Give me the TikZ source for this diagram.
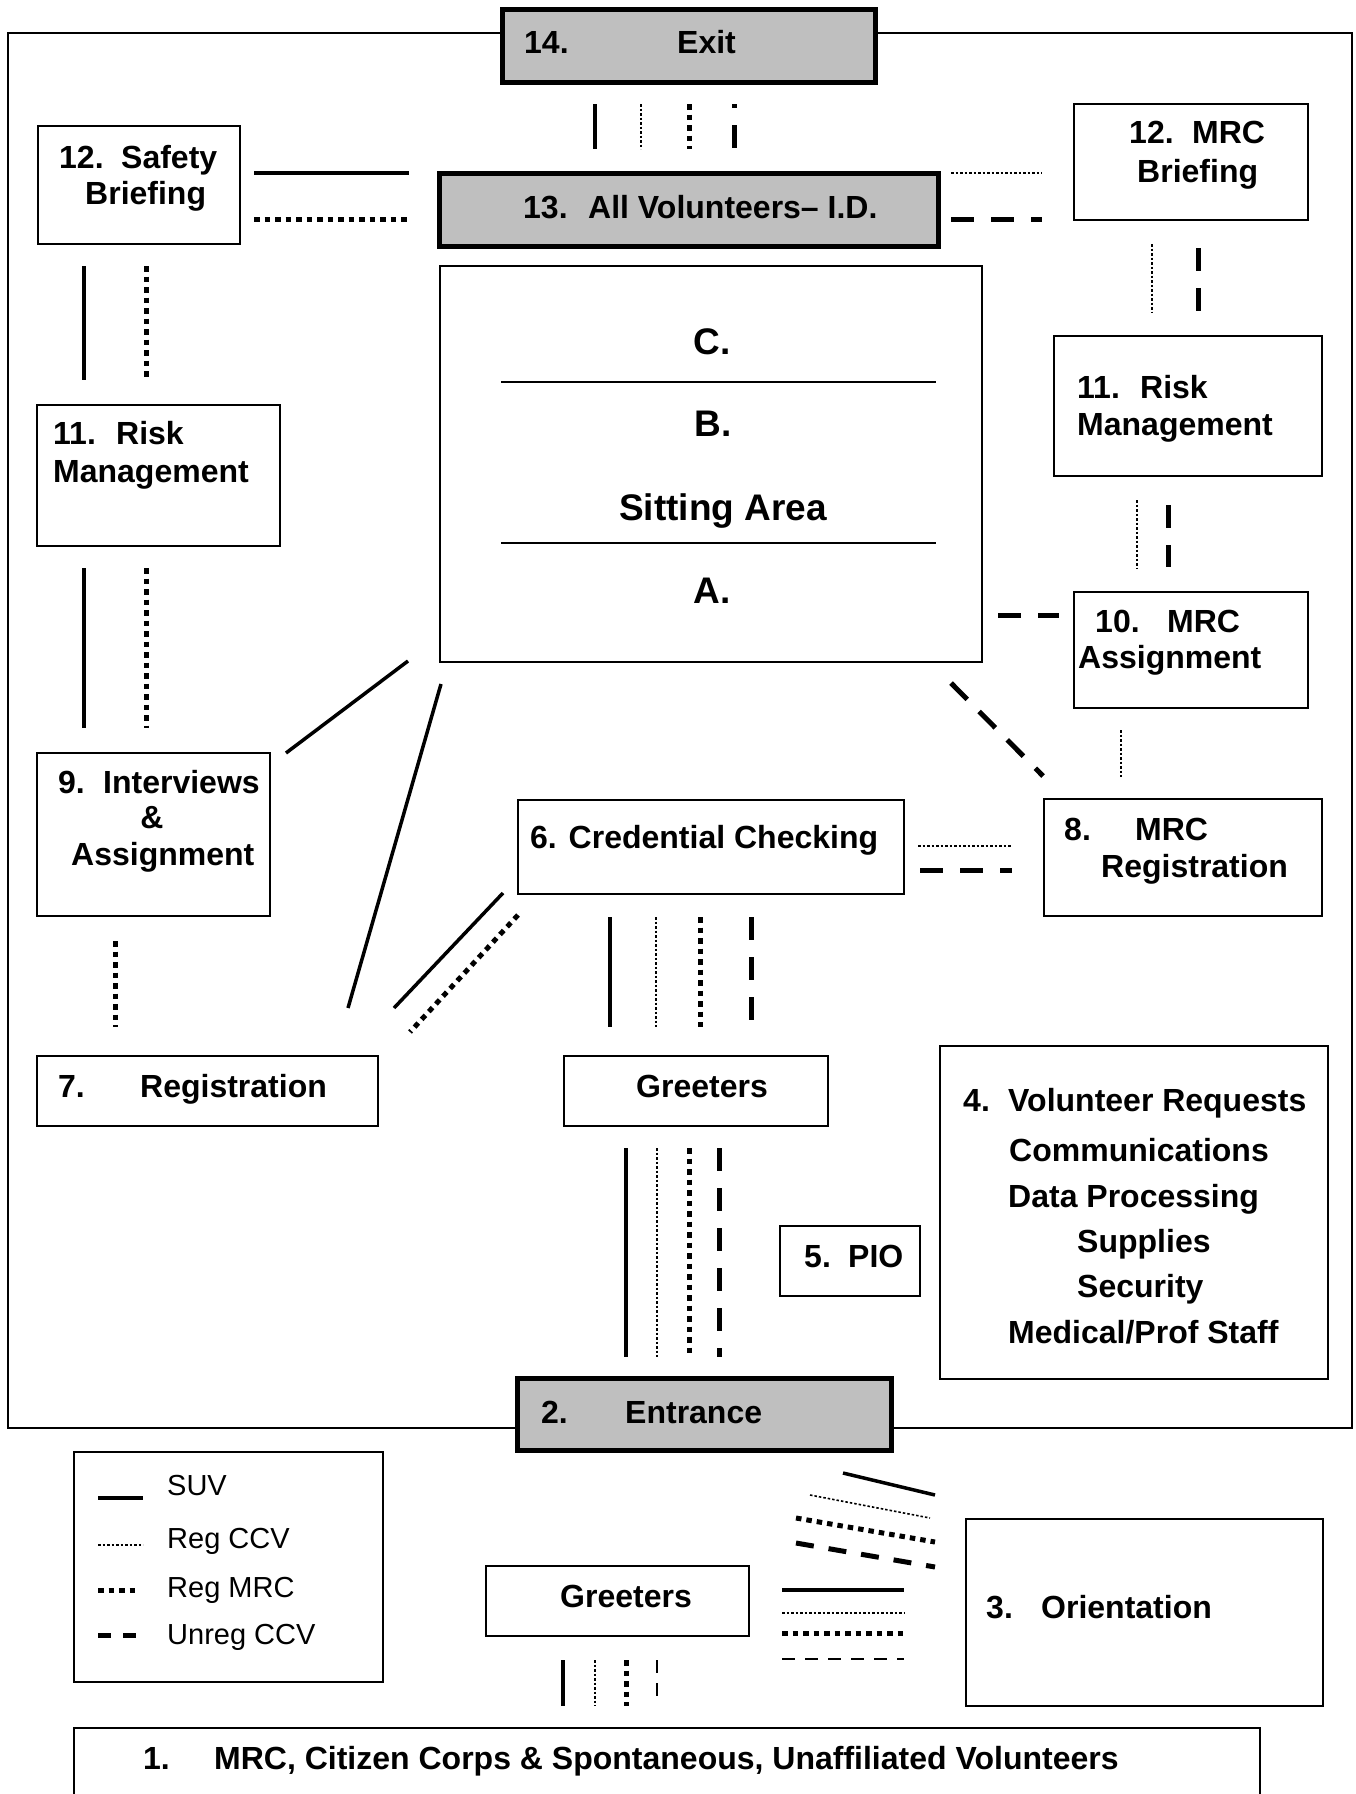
\documentclass[tikz,border=0pt]{standalone}
\usepackage{fontspec}
\setmainfont{Liberation Sans}
\usepackage{tikz}
\usetikzlibrary{fit}
\pgfdeclarelayer{background}
\pgfsetlayers{background,main}

\begin{document}
\begin{tikzpicture}[x=1pt, y=-1pt]

    % Page
    \useasboundingbox (0,0) rectangle (1356,1794);

    % Rooms
    \tikzset{wall/.style={draw, line width=2.6pt}}
    \tikzset{box/.style={wall, inner sep=0pt}}
    \tikzset{hub/.style={box, line width=5pt, fill=black!25}}

    % Texts
    \tikzset{lbl/.style={inner sep=0pt, anchor=base west, font=\fontsize{32}{37}\selectfont\bfseries}}
    \tikzset{clbl/.style={lbl, anchor=base}}
    \tikzset{area/.style={clbl, font=\fontsize{37}{44}\selectfont\bfseries}}
    \tikzset{key/.style={lbl, font=\fontsize{29}{34}\selectfont}}

    % Volunteer types
    \tikzset{suv/.style={line width=3.5pt}}
    \tikzset{ccv/.style={line width=1.6pt, dash pattern=on 2.5pt off 2pt}}
    \tikzset{mrc/.style={line width=5pt, dash pattern=on 5.5pt off 5pt}}
    \tikzset{ucv/.style={line width=5pt, dash pattern=on 23pt off 17pt}}
    \tikzset{ucvs/.style={line width=2.5pt, dash pattern=on 13pt off 10pt}}

    % Building
    \node (exit) [hub, fit={(502,9) (875,82)}] {};
    \node (allid) [hub, fit={(439,173) (938,246)}] {};
    \node (safety) [box, fit={(38,126) (240,244)}] {};
    \node (mrcbrief) [box, fit={(1074,104) (1308,220)}] {};
    \node (sit) [box, fit={(440,266) (982,662)}] {};
    \node (riskl) [box, fit={(37,405) (280,546)}] {};
    \node (riskr) [box, fit={(1054,336) (1322,476)}] {};
    \node (mrcasg) [box, fit={(1074,592) (1308,708)}] {};
    \node (interv) [box, fit={(37,753) (270,916)}] {};
    \node (cred) [box, fit={(518,800) (904,894)}] {};
    \node (mrcreg) [box, fit={(1044,799) (1322,916)}] {};
    \node (reg) [box, fit={(37,1056) (378,1126)}] {};
    \node (greet) [box, fit={(564,1056) (828,1126)}] {};
    \node (volreq) [box, fit={(940,1046) (1328,1379)}] {};
    \node (pio) [box, fit={(780,1226) (920,1296)}] {};
    \node (entr) [hub, fit={(517,1378) (891,1450)}] {};

    % Outside
    \node (legend) [box, fit={(74,1452) (383,1682)}] {};
    \node (greetb) [box, fit={(486,1566) (749,1636)}] {};
    \node (orient) [box, fit={(966,1519) (1323,1706)}] {};
    \draw[wall] (74,1794) |- (1260,1728) -- (1260,1794);

    % Labels
    \node (exit-t) [lbl] at (524,53) {\makebox[153pt][l]{14.}Exit};
    \node (allid-t) [lbl] at (523,218) {\makebox[65pt][l]{13.}All Volunteers-- I.D.};
    \node (safety-t1) [lbl] at (59,168) {\makebox[62pt][l]{12.}Safety};
    \node (safety-t2) [lbl] at (85,204) {Briefing};
    \node (mrcbrief-t1) [lbl] at (1129,143) {\makebox[63pt][l]{12.}MRC};
    \node (mrcbrief-t2) [lbl] at (1137,182) {Briefing};
    \node (sit-c) [area] at (712,354) {C.};
    \node (sit-b) [area] at (713,436) {B.};
    \node (sit-t) [area] at (723,520) {Sitting Area};
    \node (sit-a) [area] at (712,603) {A.};
    \node (riskl-t1) [lbl] at (53,444) {\makebox[63pt][l]{11.}Risk};
    \node (riskl-t2) [lbl] at (53,482) {Management};
    \node (riskr-t1) [lbl] at (1077,398) {\makebox[63pt][l]{11.}Risk};
    \node (riskr-t2) [lbl] at (1077,435) {Management};
    \node (mrcasg-t1) [lbl] at (1095,632) {\makebox[72pt][l]{10.}MRC};
    \node (mrcasg-t2) [lbl] at (1078,668) {Assignment};
    \node (interv-t1) [lbl] at (58,793) {\makebox[45pt][l]{9.}Interviews};
    \node (interv-t2) [clbl] at (152,828) {\&};
    \node (interv-t3) [lbl] at (71,865) {Assignment};
    \node (cred-t) [lbl] at (530,848) {6. Credential Checking};
    \node (mrcreg-t1) [lbl] at (1064,840) {\makebox[71pt][l]{8.}MRC};
    \node (mrcreg-t2) [lbl] at (1101,877) {Registration};
    \node (reg-t) [lbl] at (58,1097) {\makebox[82pt][l]{7.}Registration};
    \node (greet-t) [clbl] at (702,1097) {Greeters};
    \node (volreq-t1) [lbl] at (963,1111) {\makebox[45pt][l]{4.}Volunteer Requests};
    \node (volreq-t2) [lbl] at (1009,1161) {Communications};
    \node (volreq-t3) [lbl] at (1008,1207) {Data Processing};
    \node (volreq-t4) [lbl] at (1077,1252) {Supplies};
    \node (volreq-t5) [lbl] at (1077,1297) {Security};
    \node (volreq-t6) [lbl] at (1008,1343) {Medical/Prof Staff};
    \node (pio-t) [lbl] at (804,1267) {\makebox[44pt][l]{5.}PIO};
    \node (entr-t) [lbl] at (541,1423) {\makebox[84pt][l]{2.}Entrance};
    \node (greetb-t) [clbl] at (626,1607) {Greeters};
    \node (orient-t) [lbl] at (986,1618) {\makebox[55pt][l]{3.}Orientation};
    \node (vols-t) [lbl] at (143,1769) {\makebox[71pt][l]{1.}MRC, Citizen Corps \& Spontaneous, Unaffiliated Volunteers};

    % Sitting area rows
    \draw[line width=2pt] (501,382) -- (936,382);
    \draw[line width=2pt] (501,543) -- (936,543);

    % Flows: ID and briefings
    \foreach \s/\x in {suv/595, ccv/641, mrc/689}
        \draw[\s] (\x,104) -- (\x,149);
    \draw[ucv, dash phase=19pt] (734,104) -- (734,149);
    \draw[suv] (254,173) -- (409,173);
    \draw[mrc] (254,219) -- (409,219);
    \draw[ccv] (951,173) -- (1042,173);
    \draw[ucv] (951,219) -- (1042,219);

    % Flows: left side
    \foreach \ya/\yb in {266/380, 568/728} {
        \draw[suv] (84,\ya) -- (84,\yb);
        \draw[mrc] (146,\ya) -- (146,\yb);
    }
    \draw[mrc] (115,941) -- (115,1027);
    \draw[suv] (408,661) -- (286,753);
    \draw[suv] (441,684) -- (348,1008);
    \draw[suv] (503,893) -- (394,1008);
    \draw[mrc] (518,915) -- (410,1032);

    % Flows: right side
    \draw[ccv] (1152,244) -- (1152,313);
    \draw[ucv] (1198,248) -- (1198,311);
    \draw[ccv] (1137,500) -- (1137,568);
    \draw[ucv] (1168,505) -- (1168,567);
    \draw[ucv] (998,615) -- (1059,615);
    \draw[ccv] (1121,730) -- (1121,777);
    \draw[ucv] (951,683) -- (1043,776);
    \draw[ccv] (918,846) -- (1012,846);
    \draw[ucv] (920,870) -- (1012,870);

    % Flows: entrance
    \foreach \s/\x in {suv/610, ccv/656, mrc/700, ucv/751}
        \draw[\s] (\x,917) -- (\x,1027);
    \foreach \s/\x in {suv/626, ccv/657, mrc/689, ucv/719}
        \draw[\s] (\x,1148) -- (\x,1357);

    % Flows: outside
    \foreach \s/\x in {suv/563, ccv/595, mrc/626, ucvs/657}
        \draw[\s] (\x,1660) -- (\x,1706);
    \foreach \s/\y in {suv/1590, ccv/1613, mrc/1633, ucvs/1659}
        \draw[\s] (782,\y) -- (904,\y);
    \draw[suv] (843,1473) -- (935,1495);
    \draw[ccv] (810,1495) -- (930,1518);
    \draw[mrc] (796,1518) -- (935,1542);
    \draw[ucv, dash pattern=on 18pt off 15pt] (796,1543) -- (935,1567);

    % Legend
    \draw[suv] (98,1498) -- (143,1498);
    \draw[ccv] (98,1545) -- (143,1545);
    \draw[mrc] (98,1590) -- (138,1590);
    \draw[ucv, dash pattern=on 13pt off 12pt] (98,1635) -- (138,1635);
    \node (key-suv) [key] at (167,1495) {SUV};
    \node (key-ccv) [key] at (167,1548) {Reg CCV};
    \node (key-mrc) [key] at (167,1597) {Reg MRC};
    \node (key-ucv) [key] at (167,1644) {Unreg CCV};

    % Background image
    \begin{pgfonlayer}{background}
        \fill[white] (0,0) rectangle (1356,1794);
        \draw[wall] (8,33) rectangle (1352,1428);
    \end{pgfonlayer}

\end{tikzpicture}
\end{document}
